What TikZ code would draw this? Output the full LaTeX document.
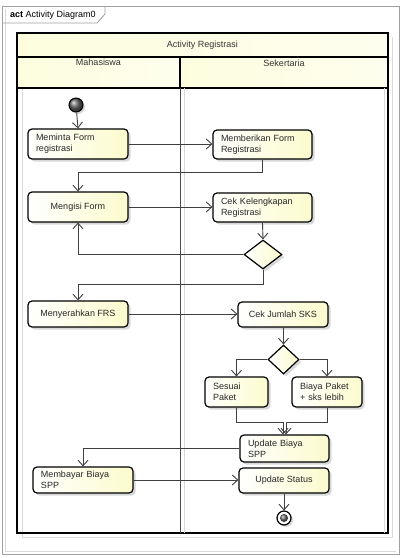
\documentclass[tikz,border=0pt]{standalone}
\usepackage{fontspec}
\setmainfont{Liberation Sans}
\usetikzlibrary{arrows.meta,shapes.geometric,shadows}
\definecolor{actyellow}{RGB}{251,251,205}
\definecolor{hdryellow}{RGB}{253,253,222}
\definecolor{framegray}{RGB}{160,160,160}
\begin{document}
\begin{tikzpicture}[x=1pt,y=-1pt,
  font=\fontsize{9}{11}\selectfont,
  act/.style={draw=black, line width=1.2pt, rounded corners=4pt,
    left color=white, right color=actyellow,
    drop shadow={shadow xshift=2.5pt, shadow yshift=-2.5pt, fill=black!30, opacity=0.5},
    inner xsep=8pt, inner ysep=0pt, text=black!85},
  decision/.style={diamond, draw=black, line width=1.2pt, inner sep=0pt,
    left color=white, right color=actyellow,
    drop shadow={shadow xshift=2.5pt, shadow yshift=-2.5pt, fill=black!30, opacity=0.5}},
  flow/.style={draw=black!75, line width=0.9pt, -{Straight Barb[length=5.5pt,width=10pt]}},
  lane/.style={draw=black, line width=1.5pt},
  hdr/.style={lane, left color=hdryellow, right color=white!50!hdryellow},
]
\useasboundingbox (0,0) rectangle (403,558);
% outer frame
\draw[framegray, line width=0.8pt] (2,6) rectangle (399,554);
\draw[black!15, line width=0.8pt] (5,9) -- (5,551) -- (396,551);
\draw[framegray, line width=0.8pt] (2,23) -- (97,23) -- (105,14) -- (105,6);
\node[anchor=west, inner sep=0pt] (tab) at (10,15.5) {\textbf{act} Activity Diagram0};
% partition
\draw[black!15, line width=1pt] (22,88) -- (22,537) -- (392,537) -- (392,37);
\draw[hdr] (17,33) rectangle (388,57);
\draw[hdr] (17,57) rectangle (180,88);
\draw[hdr] (180,57) rectangle (388,88);
\draw[lane] (17,88) -- (17,533) -- (388,533) -- (388,88);
\draw[black!70, line width=0.9pt] (180,88) -- (180,533);
\draw[black!15, line width=0.8pt] (184,88) -- (184,533);
\draw[black!15, line width=0.8pt] (384,88) -- (384,533);
\node[text=black!80] (title) at (202.5,45.5) {Activity Registrasi};
\node[text=black!80] (lm) at (98.5,62.5) {Mahasiswa};
\node[text=black!80] (ls) at (284,63) {Sekertaria};
% initial and final nodes
\node[circle, draw=black, line width=1pt, ball color=black!60, minimum size=14pt, inner sep=0pt,
  drop shadow={shadow xshift=2pt, shadow yshift=-2pt, fill=black!30, opacity=0.5}] (init) at (76,105) {};
\node[circle, draw=black, line width=1.2pt, fill=white, minimum size=14pt, inner sep=0pt,
  drop shadow={shadow xshift=2pt, shadow yshift=-2pt, fill=black!30, opacity=0.5}] (final) at (284,518) {};
\node[circle, ball color=black!60, minimum size=8pt, inner sep=0pt] (finalin) at (284,518) {};
% Mahasiswa lane
\node[act, minimum width=100pt, minimum height=30pt, text width=84pt, align=left] (n1) at (78,144) {Meminta Form\\registrasi};
\node[act, minimum width=100pt, minimum height=30pt, align=center] (n2) at (78,207) {Mengisi Form};
\node[act, minimum width=100pt, minimum height=26pt, align=center] (n3) at (78,314) {Menyerahkan FRS};
\node[act, minimum width=100pt, minimum height=26pt, text width=84pt, align=left] (n4) at (83,480) {Membayar Biaya\\SPP};
% Sekertaria lane
\node[act, minimum width=99pt, minimum height=29pt, text width=83pt, align=left] (s1) at (262.5,144.5) {Memberikan Form\\Registrasi};
\node[act, minimum width=99pt, minimum height=29pt, text width=83pt, align=left] (s2) at (262.5,207.5) {Cek Kelengkapan\\Registrasi};
\node[decision, minimum width=38pt, minimum height=29pt] (d1) at (263,254.5) {};
\node[act, minimum width=90pt, minimum height=25pt, align=center] (s3) at (283,314.5) {Cek Jumlah SKS};
\node[decision, minimum width=31pt, minimum height=29pt] (d2) at (283.5,359.5) {};
\node[act, minimum width=63pt, minimum height=30pt, text width=47pt, align=left] (s4) at (236.5,392) {Sesuai\\Paket};
\node[act, minimum width=70pt, minimum height=30pt, text width=54pt, align=left] (s5) at (327,392) {Biaya Paket\\+ sks lebih};
\node[act, minimum width=89pt, minimum height=27pt, text width=73pt, align=left] (s6) at (284.5,448.5) {Update Biaya\\SPP};
\node[act, minimum width=90pt, minimum height=25pt, align=center] (s7) at (284,480.5) {Update Status};
% merge points
\coordinate (m1) at (283,422);
\coordinate (m2) at (286,422);
% connectors
\draw[flow] (init) -- (n1.north);
\draw[flow] (n1.east) -- (n1.east -| s1.west);
\draw[flow] (s1.south) -- ++(0,13) -| (n2.north);
\draw[flow] (n2.east) -- (n2.east -| s2.west);
\draw[flow] (s2.south) -- (d1.north);
\draw[flow] (d1.west) -| (n2.south);
\draw[flow] (d1.south) -- ++(0,15) -| (n3.north);
\draw[flow] (n3.east) -- (n3.east -| s3.west);
\draw[flow] (s3.south -| d2.north) -- (d2.north);
\draw[flow] (d2.west) -| (s4.north);
\draw[flow] (d2.east) -| (s5.north);
\draw[flow] (s4.south) |- (m1) -- (m1 |- s6.north);
\draw[flow] (s5.south) |- (m2) -- (m2 |- s6.north);
\draw[flow] (s6.west) -| (n4.north);
\draw[flow] (n4.east) -- (n4.east -| s7.west);
\draw[flow] (s7.south) -- (final);
\end{tikzpicture}
\end{document}
